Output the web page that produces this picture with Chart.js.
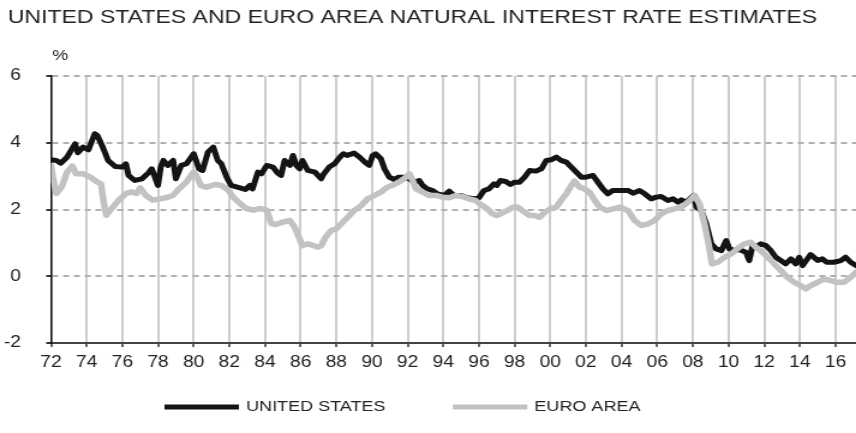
<!DOCTYPE html>
<html>
<head>
<meta charset="utf-8">
<script src="https://cdn.jsdelivr.net/npm/chart.js@4.4.1/dist/chart.umd.min.js"></script>
<style>
  html, body { margin: 0; padding: 0; background: #fff; overflow: hidden; }
  /* the reference image is stretched sideways, so draw narrower and stretch */
  #wrap { width: 713px; height: 433px; transform: scaleX(1.2006); transform-origin: 0 0; }
</style>
</head>
<body>
<div id="wrap"><canvas id="rateChart" width="713" height="433"></canvas></div>
<script>
const chartTitle = 'UNITED STATES AND EURO AREA NATURAL INTEREST RATE ESTIMATES';
const unitLabel = '%';
const xTicks = [1972, 1974, 1976, 1978, 1980, 1982, 1984, 1986, 1988, 1990, 1992, 1994,
                1996, 1998, 2000, 2002, 2004, 2006, 2008, 2010, 2012, 2014, 2016];
const yTicks = [-2, 0, 2, 4, 6];

// United States
const usYears = [1972.0, 1972.3, 1972.55, 1972.9, 1973.35, 1973.5, 1973.8, 1974.1, 1974.45, 1974.6,
  1974.9, 1975.2, 1975.6, 1976.0, 1976.2, 1976.35, 1976.7, 1977.1, 1977.45, 1977.65,
  1978.0, 1978.15, 1978.3, 1978.55, 1978.85, 1979.0, 1979.3, 1979.6, 1980.0, 1980.3,
  1980.5, 1980.8, 1981.1, 1981.35, 1981.55, 1981.85, 1982.1, 1982.6, 1982.9, 1983.15,
  1983.3, 1983.6, 1983.8, 1984.1, 1984.45, 1984.7, 1984.9, 1985.1, 1985.4, 1985.57,
  1985.76, 1985.94, 1986.1, 1986.4, 1986.8, 1987.15, 1987.3, 1987.6, 1987.9, 1988.2,
  1988.4, 1988.6, 1989.0, 1989.3, 1989.6, 1989.85, 1990.04, 1990.2, 1990.5, 1990.7,
  1990.97, 1991.25, 1991.5, 1991.8, 1992.1, 1992.37, 1992.65, 1992.84, 1993.1, 1993.4,
  1993.67, 1994.05, 1994.33, 1994.6, 1995.0, 1995.35, 1995.7, 1996.0, 1996.28, 1996.56,
  1996.84, 1997.0, 1997.2, 1997.5, 1997.77, 1998.0, 1998.28, 1998.56, 1998.84, 1999.2,
  1999.5, 1999.78, 2000.05, 2000.34, 2000.6, 2000.9, 2001.18, 2001.46, 2001.74, 2002.0,
  2002.4, 2002.67, 2002.95, 2003.23, 2003.5, 2003.9, 2004.36, 2004.64, 2005.0, 2005.3,
  2005.66, 2005.94, 2006.22, 2006.6, 2006.88, 2007.16, 2007.35, 2007.63, 2007.9, 2008.05,
  2008.2, 2008.47, 2008.75, 2009.03, 2009.3, 2009.6, 2009.87, 2010.05, 2010.34, 2010.6,
  2010.97, 2011.16, 2011.35, 2011.53, 2011.8, 2012.1, 2012.37, 2012.65, 2012.93, 2013.2,
  2013.5, 2013.77, 2013.96, 2014.15, 2014.6, 2015.0, 2015.26, 2015.5, 2015.9, 2016.3,
  2016.57, 2016.85, 2017.15];
const usValues = [3.49, 3.47, 3.39, 3.57, 3.97, 3.70, 3.87, 3.79, 4.27, 4.22,
  3.87, 3.47, 3.29, 3.27, 3.37, 3.02, 2.87, 2.92, 3.09, 3.22,
  2.72, 3.27, 3.47, 3.32, 3.47, 2.92, 3.32, 3.37, 3.67, 3.22,
  3.17, 3.72, 3.87, 3.47, 3.37, 2.97, 2.72, 2.65, 2.60, 2.72,
  2.62, 3.12, 3.07, 3.32, 3.27, 3.10, 3.02, 3.47, 3.32, 3.62,
  3.32, 3.22, 3.47, 3.17, 3.12, 2.92, 3.07, 3.27, 3.37, 3.57,
  3.67, 3.62, 3.69, 3.57, 3.42, 3.32, 3.62, 3.67, 3.52, 3.22,
  2.97, 2.90, 2.97, 2.97, 2.92, 2.82, 2.87, 2.72, 2.62, 2.57,
  2.47, 2.42, 2.55, 2.42, 2.42, 2.35, 2.32, 2.35, 2.57, 2.62,
  2.77, 2.72, 2.87, 2.84, 2.75, 2.82, 2.82, 2.97, 3.17, 3.15,
  3.22, 3.47, 3.49, 3.57, 3.47, 3.42, 3.27, 3.12, 2.97, 2.97,
  3.02, 2.82, 2.62, 2.47, 2.57, 2.57, 2.57, 2.49, 2.57, 2.47,
  2.32, 2.37, 2.39, 2.27, 2.32, 2.22, 2.29, 2.22, 2.35, 2.42,
  2.07, 1.97, 1.57, 0.97, 0.82, 0.77, 1.07, 0.82, 0.77, 0.80,
  0.72, 0.47, 0.92, 0.87, 0.97, 0.92, 0.77, 0.57, 0.47, 0.37,
  0.52, 0.37, 0.57, 0.32, 0.65, 0.47, 0.52, 0.42, 0.42, 0.47,
  0.57, 0.42, 0.32];

// Euro area
const euroYears = [1972.0, 1972.1, 1972.3, 1972.6, 1972.9, 1973.2, 1973.4, 1973.8, 1974.2, 1974.6,
  1974.8, 1975.0, 1975.1, 1975.4, 1975.8, 1976.2, 1976.5, 1976.8, 1977.0, 1977.3,
  1977.7, 1978.1, 1978.5, 1978.85, 1979.2, 1979.6, 1980.0, 1980.2, 1980.4, 1980.7,
  1981.2, 1981.55, 1981.95, 1982.2, 1982.6, 1982.95, 1983.35, 1983.7, 1984.1, 1984.35,
  1984.6, 1985.0, 1985.4, 1985.66, 1985.94, 1986.1, 1986.4, 1986.7, 1986.97, 1987.15,
  1987.4, 1987.7, 1988.0, 1988.27, 1988.64, 1989.0, 1989.4, 1989.76, 1990.13, 1990.5,
  1990.87, 1991.25, 1991.5, 1991.8, 1992.1, 1992.28, 1992.47, 1992.84, 1993.2, 1993.58,
  1993.95, 1994.33, 1994.7, 1995.07, 1995.44, 1995.8, 1996.19, 1996.47, 1996.74, 1997.0,
  1997.4, 1997.6, 1997.9, 1998.2, 1998.56, 1998.84, 1999.1, 1999.4, 1999.7, 2000.0,
  2000.34, 2000.6, 2000.9, 2001.18, 2001.36, 2001.64, 2001.9, 2002.2, 2002.5, 2002.77,
  2003.14, 2003.5, 2003.9, 2004.36, 2004.73, 2005.1, 2005.48, 2005.85, 2006.22, 2006.6,
  2006.97, 2007.35, 2007.72, 2008.1, 2008.37, 2008.65, 2008.88, 2009.07, 2009.4, 2009.78,
  2010.15, 2010.6, 2010.9, 2011.25, 2011.53, 2011.8, 2012.2, 2012.56, 2012.93, 2013.3,
  2013.68, 2014.05, 2014.33, 2014.6, 2015.0, 2015.36, 2015.73, 2016.1, 2016.48, 2016.85,
  2017.15];
const euroValues = [3.32, 2.97, 2.48, 2.68, 3.12, 3.30, 3.07, 3.07, 2.97, 2.82,
  2.77, 2.07, 1.83, 2.03, 2.28, 2.48, 2.53, 2.48, 2.65, 2.43,
  2.28, 2.32, 2.36, 2.43, 2.63, 2.83, 3.12, 2.97, 2.72, 2.67,
  2.75, 2.72, 2.57, 2.38, 2.18, 2.03, 1.98, 2.03, 1.98, 1.58,
  1.55, 1.62, 1.67, 1.47, 1.12, 0.92, 0.97, 0.92, 0.87, 0.92,
  1.17, 1.37, 1.42, 1.57, 1.77, 1.97, 2.12, 2.32, 2.42, 2.52,
  2.67, 2.75, 2.82, 2.92, 3.07, 2.87, 2.62, 2.52, 2.42, 2.42,
  2.37, 2.35, 2.42, 2.39, 2.32, 2.27, 2.12, 2.02, 1.87, 1.82,
  1.92, 1.97, 2.07, 2.07, 1.92, 1.82, 1.82, 1.77, 1.92, 2.02,
  2.07, 2.27, 2.47, 2.72, 2.85, 2.67, 2.62, 2.52, 2.27, 2.07,
  1.97, 2.02, 2.07, 1.97, 1.67, 1.52, 1.57, 1.67, 1.87, 1.97,
  2.02, 2.07, 2.22, 2.42, 2.17, 1.57, 0.97, 0.37, 0.42, 0.57,
  0.67, 0.87, 0.97, 1.02, 0.87, 0.77, 0.57, 0.37, 0.17, -0.03,
  -0.18, -0.28, -0.38, -0.28, -0.18, -0.08, -0.13, -0.18, -0.18, -0.03,
  0.12];

const fontFamily = '"Liberation Sans", Arial, sans-serif';
const textColor = '#222';

// title, % label and the legend under the plot
const extraText = {
  id: 'extraText',
  afterDraw(chart) {
    const ctx = chart.ctx;
    const area = chart.chartArea;
    ctx.save();
    ctx.fillStyle = textColor;
    ctx.textBaseline = 'middle';
    ctx.font = '19.2px ' + fontFamily;
    ctx.fillText(chartTitle, 6.5, 18);
    ctx.font = '15px ' + fontFamily;
    ctx.fillText(unitLabel, area.left + 1, 56);

    let x = 137;
    const y = 407;
    ctx.font = '15px ' + fontFamily;
    chart.data.datasets.forEach(ds => {
      ctx.fillStyle = ds.borderColor;
      ctx.fillRect(x, y - 2.5, 62, 5);
      x += 68;
      ctx.fillStyle = textColor;
      ctx.fillText(ds.label, x, y);
      x += ctx.measureText(ds.label).width + 56;
    });
    ctx.restore();
  }
};

const toPoints = (xs, ys) => xs.map((x, i) => ({ x: x, y: ys[i] }));

new Chart(document.getElementById('rateChart'), {
  type: 'line',
  data: {
    datasets: [
      {
        label: 'UNITED STATES',
        data: toPoints(usYears, usValues),
        borderColor: '#141414',
        borderWidth: 5,
        order: 1
      },
      {
        label: 'EURO AREA',
        data: toPoints(euroYears, euroValues),
        borderColor: '#c2c2c2',
        borderWidth: 5.5,
        order: 0
      }
    ]
  },
  options: {
    responsive: false,
    animation: false,
    events: [],
    layout: { padding: { top: 76, right: 0, bottom: 60, left: 0 } },
    elements: {
      point: { radius: 0 },
      line: { tension: 0, borderJoinStyle: 'round', borderCapStyle: 'round' }
    },
    plugins: {
      legend: { display: false },
      title: { display: false },
      tooltip: { enabled: false }
    },
    scales: {
      x: {
        type: 'linear',
        min: 1972,
        max: 2017.15,
        afterBuildTicks: s => { s.ticks = xTicks.map(v => ({ value: v })); },
        afterFit: s => { s.height = 30; },
        ticks: {
          callback: v => String(v).slice(2),
          font: { family: fontFamily, size: 16 },
          color: textColor,
          padding: 6,
          maxRotation: 0,
          autoSkip: false
        },
        grid: { color: '#cdcdcd', lineWidth: 2, tickLength: 4, tickColor: '#666' },
        border: { color: '#444', width: 2 }
      },
      y: {
        min: -2,
        max: 6,
        afterBuildTicks: s => { s.ticks = yTicks.map(v => ({ value: v })); },
        afterFit: s => { s.width = 42.5; },
        ticks: {
          font: { family: fontFamily, size: 16 },
          color: textColor,
          padding: 21
        },
        grid: {
          color: c => (c.tick && c.tick.value === -2) ? 'rgba(0,0,0,0)' : '#b0b0b0',
          lineWidth: 2,
          tickLength: 4,
          tickColor: '#333'
        },
        border: { color: '#111', width: 1.5, dash: [5, 4] }
      }
    }
  },
  plugins: [extraText]
});
</script>
</body>
</html>
